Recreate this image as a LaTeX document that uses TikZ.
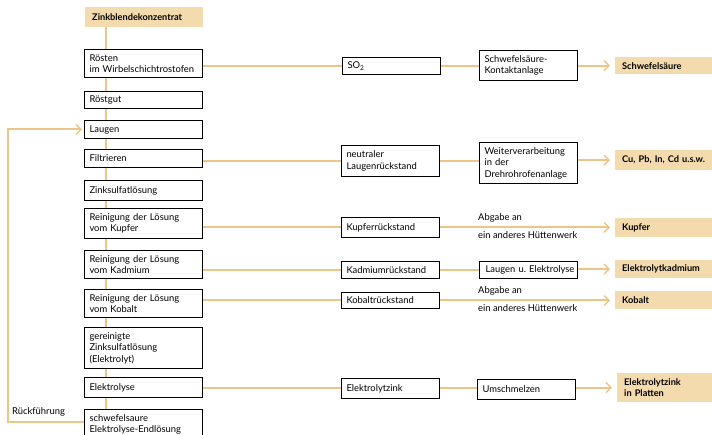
\documentclass[tikz,border=0pt]{standalone}
\usepackage{fontspec}
\setmainfont{Lato}
\usetikzlibrary{arrows.meta}
\definecolor{tanfill}{HTML}{F4DBAD}
\definecolor{tanline}{HTML}{EBC687}
\pgfdeclarelayer{bg}
\pgfsetlayers{bg,main}
\begin{document}
\begin{tikzpicture}[x=1pt,y=-1pt,
  box/.style={draw=black, line width=1pt, fill=white, anchor=north west,
    inner xsep=5pt, inner ysep=1pt, align=left,
    font=\fontsize{9.4}{11.5}\selectfont},
  lbox/.style={box, text width=108pt},
  mbox/.style={box, text width=88pt},
  tanbox/.style={fill=tanfill, draw=none, anchor=north west, inner xsep=7pt,
    inner ysep=1pt, align=left, text width=83pt,
    font=\fontsize{9.2}{11}\selectfont\bfseries},
  lbl/.style={anchor=west, inner sep=0pt, font=\fontsize{9.4}{11.5}\selectfont},
  link/.style={draw=tanline, line width=2pt},
  arr/.style={link, -{Straight Barb[length=5pt,width=10pt,line width=1.4pt]}}
]
\useasboundingbox (0,0) rectangle (712,435);
\clip (0,0) rectangle (712,435);

% left column
\node[tanbox, text width=104pt, minimum height=20pt] (z0) at (85,7) {Zinkblendekonzentrat};
\node[lbox, minimum height=28pt] (r1) at (84,49) {Rösten\\im Wirbelschichtrostofen};
\node[lbox, minimum height=17pt] (r2) at (84,91) {Röstgut};
\node[lbox, minimum height=18pt] (r3) at (84,120) {Laugen};
\node[lbox, minimum height=18pt] (r4) at (84,149) {Filtrieren};
\node[lbox, minimum height=20pt] (r5) at (84,180) {Zinksulfatlösung};
\node[lbox, minimum height=30pt] (r6) at (84,208) {Reinigung der Lösung\\vom Kupfer};
\node[lbox, minimum height=28pt] (r7) at (84,250) {Reinigung der Lösung\\vom Kadmium};
\node[lbox, minimum height=28pt] (r8) at (84,289) {Reinigung der Lösung\\vom Kobalt};
\node[lbox, minimum height=41pt] (r9) at (84,327) {gereinigte\\Zinksulfatlösung\\(Elektrolyt)};
\node[lbox, minimum height=20pt] (r10) at (84,377) {Elektrolyse};
\node[lbox, minimum height=30pt] (r11) at (84,409) {schwefelsaure\\Elektrolyse-Endlösung};
\node[lbl] (rf) at (12,412) {Rückführung};

% middle columns
\node[mbox, minimum height=17pt] (m1) at (342,57) {SO\textsubscript{2}};
\node[mbox, minimum height=30pt] (m2) at (479,50) {Schwefelsäure-\\Kontaktanlage};
\node[mbox, minimum height=31pt] (m3) at (341,145) {neutraler\\Laugenrückstand};
\node[mbox, minimum height=41pt] (m4) at (479,142) {Weiterverarbeitung\\in der\\Drehrohrofenanlage};
\node[mbox, minimum height=20pt] (m5) at (341,217) {Kupferrückstand};
\node[mbox, minimum height=17pt] (m6) at (341,261) {Kadmiumrückstand};
\node[box, text width=92pt, inner xsep=3pt, minimum height=17pt] (m7) at (479,261) {\mbox{~Laugen u.\ Elektrolyse}};
\node[mbox, minimum height=16pt] (m8) at (341,292) {Kobaltrückstand};
\node[mbox, minimum height=20pt] (m9) at (341,378) {Elektrolytzink};
\node[mbox, minimum height=20pt] (m10) at (477,379) {Umschmelzen};

\node[lbl] (a1) at (478,218) {Abgabe an};
\node[lbl] (b1) at (478,235) {ein anderes Hüttenwerk};
\node[lbl] (a2) at (478,291) {Abgabe an};
\node[lbl] (b2) at (478,308) {ein anderes Hüttenwerk};

% products
\node[tanbox, minimum height=17pt] (t1) at (615,57) {Schwefelsäure};
\node[tanbox, minimum height=20pt] (t2) at (615,150) {Cu, Pb, In, Cd u.s.w.};
\node[tanbox, minimum height=19pt] (t3) at (615,218) {Kupfer};
\node[tanbox, minimum height=18pt] (t4) at (615,260) {Elektrolytkadmium};
\node[tanbox, minimum height=18pt] (t5) at (615,291) {Kobalt};
\node[tanbox, minimum height=29pt] (t6) at (617,373) {Elektrolytzink\\in Platten};

\begin{pgfonlayer}{bg}
  \draw[link] ([xshift=21pt]z0.south west) -- ([xshift=22pt]r11.north west);
  \draw[arr] ([yshift=3pt]r11.west) -- ++(-76,0) |- ([xshift=-2pt]r3.west);
  % row 1
  \draw[link] (r1.east |- m1.west) -- (m1.west);
  \draw[link] (m1.east) -- (m1.east -| m2.west);
  \draw[arr] (m2.east |- t1.west) -- ([xshift=-5pt]t1.west);
  % row Filtrieren
  \draw[link] (r4.east |- m3.west) -- (m3.west);
  \draw[link] (m3.east) -- (m3.east -| m4.west);
  \draw[arr] (m4.east |- t2.west) -- ([xshift=-5pt]t2.west);
  % Kupfer
  \draw[link] (r6.east |- m5.west) -- (m5.west);
  \draw[arr] (m5.east) -- ([xshift=-5pt]m5.east -| t3.west);
  % Kadmium
  \draw[link] (r7.east |- m6.west) -- (m6.west);
  \draw[link] (m6.east) -- (m6.east -| m7.west);
  \draw[arr] (m7.east |- t4.west) -- ([xshift=-5pt]t4.west);
  % Kobalt
  \draw[link] (r8.east |- m8.west) -- (m8.west);
  \draw[arr] (m8.east) -- ([xshift=-5pt]m8.east -| t5.west);
  % Elektrolyse
  \draw[link] (r10.east |- m9.west) -- (m9.west);
  \draw[link] (m9.east) -- (m9.east -| m10.west);
  \draw[arr] (m10.east |- t6.west) -- ([xshift=-5pt]t6.west);
\end{pgfonlayer}
\end{tikzpicture}
\end{document}
